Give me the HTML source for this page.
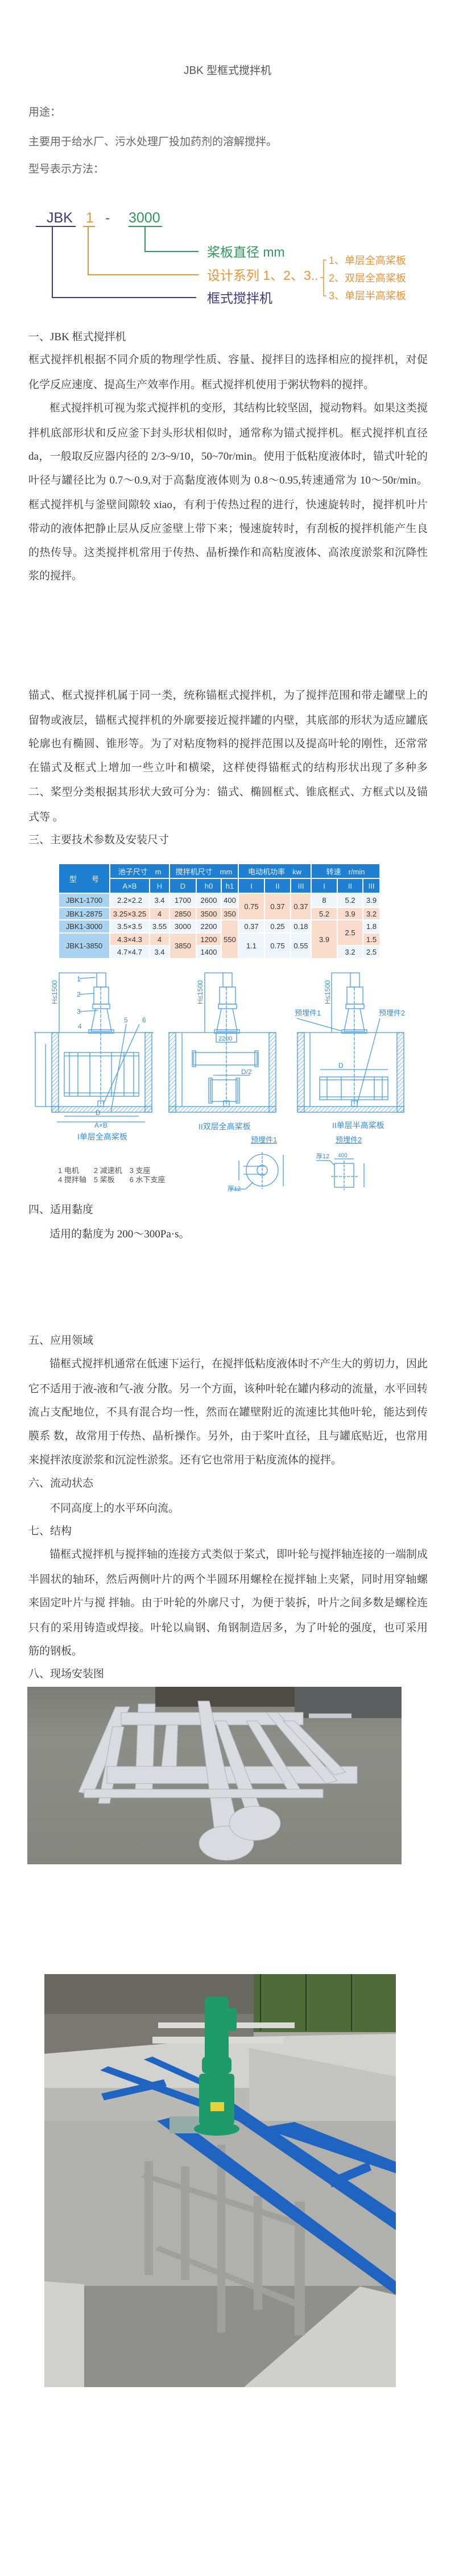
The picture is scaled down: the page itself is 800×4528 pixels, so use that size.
<!DOCTYPE html>
<html><head><meta charset="utf-8">
<style>
html,body{margin:0;padding:0;background:#fff;}
body{width:800px;height:4528px;position:relative;overflow:hidden;}
.s{position:absolute;font-family:"Liberation Sans","Noto Sans CJK SC",sans-serif;color:#666;white-space:nowrap;}
.t{position:absolute;left:50px;font-family:"Liberation Serif","Noto Serif CJK SC",serif;font-size:19px;line-height:22px;height:22px;color:#333;white-space:nowrap;}
.j{width:702px;text-align:justify;text-align-last:justify;white-space:normal;overflow:hidden;}
.i{text-indent:37px;}
table{position:absolute;left:102px;top:1517px;width:565px;border-collapse:collapse;font-family:"Liberation Sans","Noto Sans CJK SC",sans-serif;font-size:13px;color:#333;table-layout:fixed;}
td{border:2px solid #fff;text-align:center;padding:0;}
.h{background:#1f7fd0;color:#e8f2fb;height:24px;}
.m{background:#a9d3f0;}
.l{background:#eef5fb;}
.o{background:#fadccd;}
.ph{position:absolute;overflow:hidden;}
</style></head><body>

<div class="s" style="left:0;width:800px;text-align:center;top:109px;font-size:19px;color:#555;">JBK 型框式搅拌机</div>
<div class="s" style="left:50px;top:182px;font-size:19px;">用途：</div>
<div class="s" style="left:50px;top:234px;font-size:19px;">主要用于给水厂、污水处理厂投加药剂的溶解搅拌。</div>
<div class="s" style="left:50px;top:282px;font-size:19px;">型号表示方法：</div>

<svg style="position:absolute;left:0;top:350px" width="800" height="200" viewBox="0 350 800 200">
 <g font-family="Liberation Sans, Noto Sans CJK SC, sans-serif">
 <text x="82" y="391" font-size="25" fill="#3d3a7a">JBK</text>
 <text x="151" y="391" font-size="25" fill="#e8953a">1</text>
 <text x="185" y="391" font-size="25" fill="#555">-</text>
 <text x="226" y="391" font-size="25" fill="#2e9a5a">3000</text>
 <line x1="63" y1="398" x2="133" y2="398" stroke="#3d3a7a" stroke-width="2"/>
 <polyline points="92,398 92,523 345,523" fill="none" stroke="#3d3a7a" stroke-width="2"/>
 <line x1="146" y1="398" x2="167" y2="398" stroke="#e8953a" stroke-width="2"/>
 <polyline points="155,398 155,483 349,483" fill="none" stroke="#e8953a" stroke-width="2"/>
 <line x1="226" y1="398" x2="285" y2="398" stroke="#2e9a5a" stroke-width="2"/>
 <polyline points="255,398 255,442 349,442" fill="none" stroke="#2e9a5a" stroke-width="2"/>
 <text x="364" y="451" font-size="23" fill="#2e9a5a">桨板直径 mm</text>
 <text x="364" y="492" font-size="23" fill="#e8953a">设计系列 1、2、3..</text>
 <text x="364" y="532" font-size="23" fill="#3d3a7a">框式搅拌机</text>
 <polyline points="574,457 569,457 569,520 574,520" fill="none" stroke="#e8953a" stroke-width="1.5"/>
 <line x1="563" y1="488" x2="569" y2="488" stroke="#e8953a" stroke-width="1.5"/>
 <text x="578" y="464" font-size="18" fill="#e8953a">1、单层全高桨板</text>
 <text x="578" y="495" font-size="18" fill="#e8953a">2、双层全高桨板</text>
 <text x="578" y="526" font-size="18" fill="#e8953a">3、单层半高桨板</text>
 </g>
</svg>

<div class="t" style="top:582px">一、JBK 框式搅拌机</div>
<div class="t j" style="top:622px">框式搅拌机根据不同介质的物理学性质、容量、搅拌目的选择相应的搅拌机，对促进</div>
<div class="t" style="top:666px">化学反应速度、提高生产效率作用。框式搅拌机使用于粥状物料的搅拌。</div>
<div class="t j i" style="top:707px">框式搅拌机可视为浆式搅拌机的变形，其结构比较坚固，搅动物料。如果这类搅</div>
<div class="t j" style="top:751px">拌机底部形状和反应釜下封头形状相似时，通常称为锚式搅拌机。框式搅拌机直径较</div>
<div class="t j" style="top:792px">da，一般取反应器内径的 2/3~9/10，50~70r/min。使用于低粘度液体时，锚式叶轮的</div>
<div class="t j" style="top:834px">叶径与罐径比为 0.7～0.9,对于高黏度液体则为 0.8～0.95,转速通常为 10～50r/min。</div>
<div class="t j" style="top:877px">框式搅拌机与釜壁间隙较 xiao，有利于传热过程的进行，快速旋转时，搅拌机叶片所</div>
<div class="t j" style="top:919px">带动的液体把静止层从反应釜壁上带下来；慢速旋转时，有刮板的搅拌机能产生良好</div>
<div class="t j" style="top:961px">的热传导。这类搅拌机常用于传热、晶析操作和高粘度液体、高浓度淤浆和沉降性淤</div>
<div class="t" style="top:1002px">浆的搅拌。</div>

<div class="t j" style="top:1212px">锚式、框式搅拌机属于同一类，统称锚框式搅拌机，为了搅拌范围和带走罐壁上的残</div>
<div class="t j" style="top:1256px">留物或液层，锚框式搅拌机的外廓要接近搅拌罐的内壁，其底部的形状为适应罐底的</div>
<div class="t j" style="top:1297px">轮廓也有椭圆、锥形等。为了对粘度物料的搅拌范围以及提高叶轮的刚性，还常常要</div>
<div class="t j" style="top:1339px">在锚式及框式上增加一些立叶和横梁，这样使得锚框式的结构形状出现了多种多样。</div>
<div class="t j" style="top:1382px">二、桨型分类根据其形状大致可分为：锚式、椭圆框式、锥底框式、方框式以及锚框</div>
<div class="t" style="top:1426px">式等 。</div>
<div class="t" style="top:1466px">三、主要技术参数及安装尺寸</div>

<table>
<colgroup><col style="width:90px"><col style="width:70px"><col style="width:35px"><col style="width:47px"><col style="width:44px"><col style="width:30px"><col style="width:46px"><col style="width:46px"><col style="width:36px"><col style="width:46px"><col style="width:45px"><col style="width:30px"></colgroup>
<tr><td class="h" rowspan="2">型　　号</td><td class="h" colspan="2">池子尺寸　m</td><td class="h" colspan="3">搅拌机尺寸　mm</td><td class="h" colspan="3">电动机功率　kw</td><td class="h" colspan="3">转速　r/min</td></tr>
<tr><td class="h">A×B</td><td class="h">H</td><td class="h">D</td><td class="h">h0</td><td class="h">h1</td><td class="h">I</td><td class="h">II</td><td class="h">III</td><td class="h">I</td><td class="h">II</td><td class="h">III</td></tr>
<tr style="height:25px"><td class="m">JBK1-1700</td><td class="l">2.2×2.2</td><td class="l">3.4</td><td class="l">1700</td><td class="l">2600</td><td class="l">400</td><td class="o" rowspan="2">0.75</td><td class="o" rowspan="2">0.37</td><td class="o" rowspan="2">0.37</td><td class="l">8</td><td class="l">5.2</td><td class="l">3.9</td></tr>
<tr style="height:22px"><td class="m">JBK1-2875</td><td class="o">3.25×3.25</td><td class="o">4</td><td class="o">2850</td><td class="o">3500</td><td class="o">350</td><td class="o">5.2</td><td class="o">3.9</td><td class="o">3.2</td></tr>
<tr style="height:23px"><td class="m">JBK1-3000</td><td class="l">3.5×3.5</td><td class="l">3.55</td><td class="l">3000</td><td class="l">2200</td><td class="o" rowspan="3">550</td><td class="l">0.37</td><td class="l">0.25</td><td class="l">0.18</td><td class="o" rowspan="3">3.9</td><td class="o" rowspan="2">2.5</td><td class="l">1.8</td></tr>
<tr style="height:22px"><td class="m" rowspan="2">JBK1-3850</td><td class="o">4.3×4.3</td><td class="o">4</td><td class="o" rowspan="2">3850</td><td class="o">1200</td><td class="l" rowspan="2">1.1</td><td class="l" rowspan="2">0.75</td><td class="l" rowspan="2">0.55</td><td class="o">1.5</td></tr>
<tr style="height:23px"><td class="l">4.7×4.7</td><td class="l">3.4</td><td class="l">1400</td><td class="l">3.2</td><td class="l">2.5</td></tr>
</table>

<svg style="position:absolute;left:0;top:1695px" width="800" height="410" viewBox="0 1695 800 410">
<defs><pattern id="hp" width="5" height="5" patternUnits="userSpaceOnUse" patternTransform="rotate(45)"><line x1="0" y1="0" x2="0" y2="5" stroke="#4a9fdc" stroke-width="1.4"/></pattern></defs>
<g stroke="#4a9fdc" stroke-width="1.3" fill="none">
 <rect x="170" y="1710" width="16" height="25"/><rect x="165" y="1735" width="26" height="30"/><rect x="163" y="1765" width="30" height="8"/>
 <polyline points="168,1773 160,1813 196,1813 188,1773"/><rect x="156" y="1810" width="44" height="6"/>
 <line x1="60" y1="1815" x2="270" y2="1815"/>
 <rect x="91" y="1815" width="12" height="140" fill="url(#hp)"/><rect x="255" y="1815" width="12" height="140" fill="url(#hp)"/><rect x="91" y="1945" width="176" height="10" fill="url(#hp)"/>
 <line x1="177" y1="1735" x2="177" y2="1945" stroke-dasharray="6,2"/>
 <rect x="113" y="1850" width="131" height="77"/><line x1="113" y1="1856" x2="244" y2="1856"/><line x1="113" y1="1921" x2="244" y2="1921"/>
 <line x1="122" y1="1850" x2="122" y2="1927"/><line x1="137" y1="1850" x2="137" y2="1927"/><line x1="158" y1="1850" x2="158" y2="1927"/><line x1="196" y1="1850" x2="196" y2="1927"/><line x1="218" y1="1850" x2="218" y2="1927"/><line x1="235" y1="1850" x2="235" y2="1927"/>
 <rect x="172" y="1935" width="10" height="10"/>
 <polyline points="170,1710 104,1710 104,1815"/><line x1="62" y1="1815" x2="62" y2="1945"/><line x1="80" y1="1835" x2="80" y2="1945"/>
 <line x1="62" y1="1945" x2="100" y2="1945"/>
 <line x1="113" y1="1962" x2="244" y2="1962"/><line x1="100" y1="1972" x2="255" y2="1972"/>
 <line x1="140" y1="1720" x2="168" y2="1718"/><line x1="140" y1="1748" x2="166" y2="1746"/><line x1="140" y1="1778" x2="172" y2="1776"/>
 <line x1="195" y1="1955" x2="222" y2="1800"/><line x1="182" y1="1940" x2="245" y2="1800"/>
 <rect x="392" y="1710" width="16" height="25"/><rect x="386" y="1735" width="28" height="30"/><rect x="384" y="1765" width="32" height="8"/>
 <polyline points="389,1773 381,1813 417,1813 409,1773"/><rect x="377" y="1810" width="44" height="6"/>
 <line x1="297" y1="1815" x2="485" y2="1815"/>
 <rect x="297" y="1815" width="12" height="140" fill="url(#hp)"/><rect x="473" y="1815" width="12" height="140" fill="url(#hp)"/><rect x="297" y="1945" width="188" height="10" fill="url(#hp)"/>
 <line x1="398" y1="1735" x2="398" y2="1945" stroke-dasharray="6,2"/>
 <rect x="380" y="1816" width="36" height="16"/>
 <rect x="340" y="1850" width="112" height="22"/><rect x="338" y="1847" width="6" height="28"/><rect x="448" y="1847" width="6" height="28"/>
 <rect x="370" y="1898" width="48" height="38"/><rect x="367" y="1895" width="6" height="44"/><rect x="415" y="1895" width="6" height="44"/>
 <polyline points="392,1710 360,1710 360,1815"/><line x1="320" y1="1815" x2="320" y2="1945"/><line x1="375" y1="1890" x2="440" y2="1890"/>
 <rect x="393" y="1935" width="10" height="10"/>
 <rect x="616" y="1710" width="16" height="25"/><rect x="610" y="1735" width="28" height="30"/><rect x="608" y="1765" width="32" height="8"/>
 <polyline points="613,1773 605,1813 641,1813 633,1773"/><rect x="601" y="1810" width="44" height="6"/>
 <line x1="523" y1="1815" x2="710" y2="1815"/>
 <rect x="523" y="1815" width="12" height="140" fill="url(#hp)"/><rect x="698" y="1815" width="12" height="140" fill="url(#hp)"/><rect x="523" y="1945" width="187" height="10" fill="url(#hp)"/>
 <line x1="623" y1="1735" x2="623" y2="1945" stroke-dasharray="6,2"/>
 <rect x="562" y="1893" width="120" height="40"/><line x1="562" y1="1898" x2="682" y2="1898"/><line x1="562" y1="1928" x2="682" y2="1928"/>
 <line x1="575" y1="1893" x2="575" y2="1933"/><line x1="600" y1="1893" x2="600" y2="1933"/><line x1="658" y1="1893" x2="658" y2="1933"/><line x1="672" y1="1893" x2="672" y2="1933"/>
 <line x1="563" y1="1880" x2="682" y2="1880"/>
 <polyline points="616,1710 583,1710 583,1815"/><line x1="545" y1="1815" x2="545" y2="1945"/>
 <line x1="522" y1="1790" x2="600" y2="1812"/><line x1="668" y1="1790" x2="628" y2="1940"/>
 <rect x="618" y="1935" width="10" height="10"/>
 <circle cx="461" cy="2057" r="28"/><circle cx="461" cy="2057" r="9"/><line x1="428" y1="2050" x2="465" y2="2050"/><line x1="428" y1="2064" x2="465" y2="2064"/>
 <line x1="461" y1="2025" x2="461" y2="2090" stroke-dasharray="5,2"/><line x1="498" y1="2030" x2="498" y2="2085"/><line x1="420" y1="2040" x2="420" y2="2075"/>
 <line x1="404" y1="2090" x2="432" y2="2090"/><line x1="432" y1="2090" x2="445" y2="2078"/>
 <rect x="588" y="2045" width="34" height="42"/><line x1="605" y1="2040" x2="605" y2="2092" stroke-dasharray="5,2"/><line x1="582" y1="2068" x2="630" y2="2068" stroke-dasharray="5,2"/>
 <line x1="588" y1="2037" x2="622" y2="2037"/><line x1="640" y1="2045" x2="640" y2="2087"/>
 <polyline points="556,2040 580,2040 588,2048"/>
</g>
<g font-family="Liberation Sans, Noto Sans CJK SC, sans-serif" fill="#3a8fd0" font-size="12">
 <text x="135" y="1725">1</text><text x="135" y="1752">2</text><text x="135" y="1782">3</text><text x="137" y="1808">4</text><text x="218" y="1797">5</text><text x="250" y="1797">6</text>
 <text x="168" y="1960">D</text><text x="166" y="1982">A×B</text><text x="424" y="1888">D/2</text><text x="595" y="1877">D</text>
 <text x="100" y="1765" transform="rotate(-90 100 1765)">H≤1500</text><text x="356" y="1765" transform="rotate(-90 356 1765)">H≤1500</text><text x="580" y="1765" transform="rotate(-90 580 1765)">H≤1500</text>
 <text x="384" y="1829" font-size="11">2200</text>
 <text x="518" y="1785" font-size="13">预埋件1</text><text x="666" y="1785" font-size="13">预埋件2</text>
 <text x="136" y="2003" font-size="14">I单层全高桨板</text><text x="349" y="1985" font-size="14">II双层全高桨板</text><text x="584" y="1983" font-size="14">II单层半高桨板</text>
 <text x="441" y="2008" font-size="13" text-decoration="underline">预埋件1</text><text x="590" y="2008" font-size="13" text-decoration="underline">预埋件2</text>
 <text x="400" y="2093" font-size="11">厚12</text><text x="556" y="2036" font-size="11">厚12</text><text x="594" y="2034" font-size="10">400</text>
</g>
<g font-family="Liberation Sans, Noto Sans CJK SC, sans-serif" fill="#555" font-size="13">
 <text x="102" y="2062">1 电机　　2 减速机　3 支座</text>
 <text x="102" y="2078">4 搅拌轴　5 桨板　　6 水下支座</text>
</g>
</svg>

<div class="t" style="top:2116px">四、适用黏度</div>
<div class="t i" style="top:2159px">适用的黏度为 200～300Pa·s。</div>
<div class="t" style="top:2346px">五、应用领域</div>
<div class="t j i" style="top:2387px">锚框式搅拌机通常在低速下运行，在搅拌低粘度液体时不产生大的剪切力，因此</div>
<div class="t j" style="top:2431px">它不适用于液-液和气-液 分散。另一个方面，该种叶轮在罐内移动的流量，水平回转</div>
<div class="t j" style="top:2472px">流占支配地位，不具有混合均一性，然而在罐壁附近的流速比其他叶轮，能达到传热</div>
<div class="t j" style="top:2514px">膜系 数，故常用于传热、晶析操作。另外，由于桨叶直径，且与罐底贴近，也常用它</div>
<div class="t" style="top:2556px">来搅拌浓度淤浆和沉淀性淤浆。还有它也常用于粘度流体的搅拌。</div>
<div class="t" style="top:2597px">六、流动状态</div>
<div class="t i" style="top:2641px">不同高度上的水平环向流。</div>
<div class="t" style="top:2681px">七、结构</div>
<div class="t j i" style="top:2722px">锚框式搅拌机与搅拌轴的连接方式类似于桨式，即叶轮与搅拌轴连接的一端制成</div>
<div class="t j" style="top:2766px">半圆状的轴环，然后两侧叶片的两个半圆环用螺栓在搅拌轴上夹紧，同时用穿轴螺栓</div>
<div class="t j" style="top:2807px">来固定叶片与搅 拌轴。由于叶轮的外廓尺寸，为便于装拆，叶片之间多数是螺栓连接，</div>
<div class="t j" style="top:2851px">只有的采用铸造或焊接。叶轮以扁钢、角钢制造居多，为了叶轮的强度，也可采用 加</div>
<div class="t" style="top:2892px">筋的钢板。</div>
<div class="t" style="top:2932px">八、现场安装图</div>

<div class="ph" style="left:48px;top:2965px;width:658px;height:312px;background:linear-gradient(180deg,#7d7d78 0%,#8e8e89 30%,#858580 100%);">
<svg width="658" height="312" viewBox="0 0 658 312">
 <rect x="225" y="0" width="290" height="35" fill="#4e4a44"/><rect x="470" y="0" width="188" height="55" fill="#5b5f60"/>
 <g fill="#d9dbe0" stroke="#b0b3b8" stroke-width="1">
  <polygon points="90,185 155,35 180,35 115,190"/>
  <polygon points="125,205 150,70 170,70 145,205"/>
  <polygon points="190,180 195,30 225,30 220,180"/>
  <polygon points="235,150 245,60 265,60 262,150"/>
  <rect x="140" y="140" width="440" height="30"/>
  <rect x="165" y="45" width="320" height="22"/>
  <polygon points="300,25 320,25 380,290 335,300"/>
  <polygon points="330,60 350,60 420,240 395,250"/>
  <polygon points="385,60 405,60 480,180 460,185"/>
  <polygon points="420,45 440,45 545,165 525,170"/>
  <polygon points="450,60 470,60 560,150 540,155"/>
  <rect x="100" y="180" width="420" height="15"/>
  <ellipse cx="350" cy="275" rx="48" ry="30"/><ellipse cx="400" cy="240" rx="45" ry="30"/>
 </g>
 <rect x="495" y="47" width="75" height="8" fill="#c6cbd0"/>
</svg></div>

<div class="ph" style="left:78px;top:3470px;width:618px;height:726px;background:#a9a9a5;">
<svg width="618" height="726" viewBox="0 0 618 726">
 <rect x="0" y="0" width="618" height="70" fill="#6a6863"/>
 <rect x="368" y="0" width="250" height="102" fill="#4f6b3a"/>
 <g stroke="#2a3a24" stroke-width="2"><line x1="380" y1="0" x2="380" y2="100"/><line x1="460" y1="0" x2="460" y2="100"/><line x1="540" y1="0" x2="540" y2="100"/></g>
 <rect x="0" y="70" width="368" height="70" fill="#7a7873"/>
 <polygon points="0,140 360,110 618,105 618,200 0,210" fill="#d2d2ce"/>
 <rect x="0" y="200" width="360" height="100" fill="#b9b9b5"/>
 <polygon points="360,130 618,180 618,420 360,420" fill="#c3c3bf"/>
 <rect x="0" y="258" width="618" height="290" fill="#b0b0ac"/>
 <polygon points="0,548 618,548 618,726 0,726" fill="#8f8f8b"/>
 <polygon points="0,540 70,545 70,726 0,726" fill="#d0d0cc"/>
 <polygon points="351,726 555,549 618,564 618,726" fill="#cfcfcb"/>
 <g fill="#dadad6"><rect x="200" y="85" width="240" height="10"/><rect x="190" y="110" width="230" height="12"/></g>
 <g fill="#a0a19f">
  <rect x="176" y="329" width="15" height="200"/><rect x="240" y="338" width="15" height="200"/><rect x="304" y="300" width="14" height="330"/><rect x="368" y="390" width="15" height="200"/><rect x="440" y="400" width="18" height="235"/>
  <polygon points="170,357 178,350 470,440 464,450"/>
  <polygon points="195,485 202,478 460,580 454,590"/>
 </g>
 <g fill="#1e64c0">
  <polygon points="98,169 112,162 360,250 350,262"/>
  <polygon points="175,150 190,145 300,195 290,202"/>
  <polygon points="300,230 330,225 618,420 618,450"/>
  <polygon points="100,210 210,185 215,197 105,222"/>
  <polygon points="198,258 230,250 618,540 618,564"/>
  <polygon points="380,270 440,260 618,330 618,350"/>
  <polygon points="500,360 570,330 575,345 505,375"/>
 </g>
 <rect x="220" y="250" width="110" height="30" fill="#94aba7"/>
 <g fill="#1f9a6a">
  <rect x="282" y="40" width="42" height="110" rx="6"/>
  <rect x="324" y="60" width="14" height="40"/>
  <rect x="277" y="145" width="52" height="30" rx="8"/>
  <rect x="272" y="175" width="62" height="90" rx="6"/>
  <ellipse cx="303" cy="272" rx="40" ry="12"/>
 </g>
 <rect x="292" y="225" width="24" height="16" fill="#e8d23a"/>
</svg></div>

</body></html>
